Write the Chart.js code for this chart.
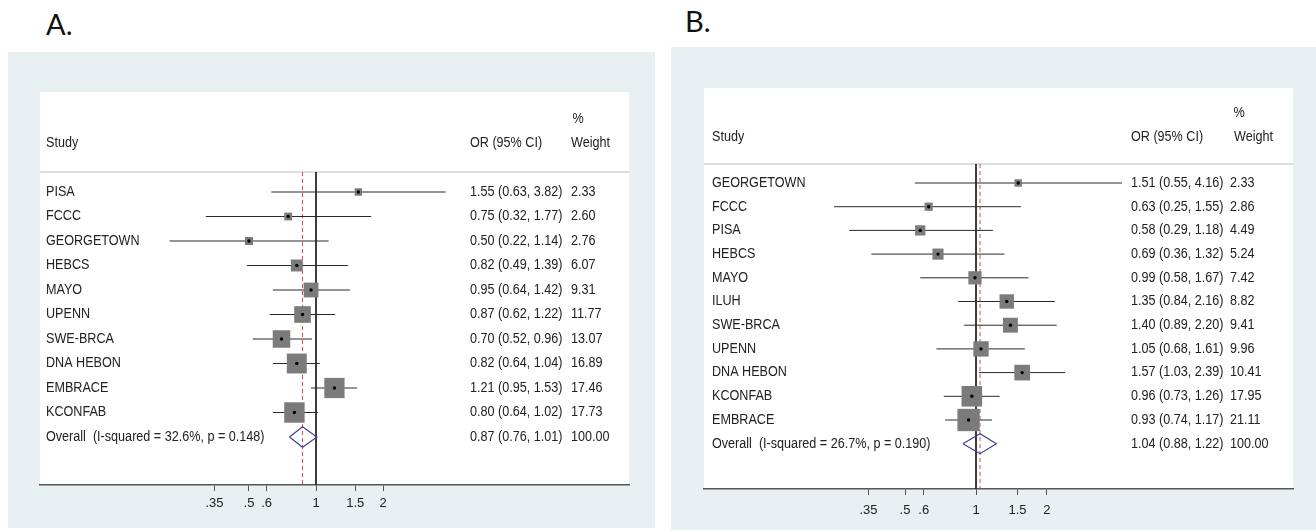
<!DOCTYPE html>
<html>
<head>
<meta charset="utf-8">
<script src="https://cdn.jsdelivr.net/npm/chart.js@4.4.0/dist/chart.umd.min.js"></script>
<style>
  body { margin: 0; background: #fff; width: 1316px; height: 530px; position: relative; overflow: hidden; }
  .lab { position: absolute; font-family: Lato, "Open Sans", sans-serif; font-size: 29px; color: #111; line-height: 1; }
  .panel { position: absolute; background: #e9f0f2; }
</style>
</head>
<body>
<div class="lab" style="left:46px;top:9px">A.</div>
<div class="lab" style="left:685px;top:6px">B.</div>
<div class="panel" style="left:8px;top:52px;width:647px;height:476px"><canvas id="chartA"></canvas></div>
<div class="panel" style="left:671px;top:47px;width:645px;height:483px"><canvas id="chartB"></canvas></div>
<script>
// panel A
var studiesA = ["PISA", "FCCC", "GEORGETOWN", "HEBCS", "MAYO", "UPENN", "SWE-BRCA", "DNA HEBON", "EMBRACE", "KCONFAB"];
var orA = [1.55, 0.75, 0.50, 0.82, 0.95, 0.87, 0.70, 0.82, 1.21, 0.80];
var lowA = [0.63, 0.32, 0.22, 0.49, 0.64, 0.62, 0.52, 0.64, 0.95, 0.64];
var highA = [3.82, 1.77, 1.14, 1.39, 1.42, 1.22, 0.96, 1.04, 1.53, 1.02];
var weightA = [2.33, 2.60, 2.76, 6.07, 9.31, 11.77, 13.07, 16.89, 17.46, 17.73];
var overallA = [0.87, 0.76, 1.01, 100.00]; // OR, low, high, weight
var hetA = "I-squared = 32.6%, p = 0.148";

// panel B
var studiesB = ["GEORGETOWN", "FCCC", "PISA", "HEBCS", "MAYO", "ILUH", "SWE-BRCA", "UPENN", "DNA HEBON", "KCONFAB", "EMBRACE"];
var orB = [1.51, 0.63, 0.58, 0.69, 0.99, 1.35, 1.40, 1.05, 1.57, 0.96, 0.93];
var lowB = [0.55, 0.25, 0.29, 0.36, 0.58, 0.84, 0.89, 0.68, 1.03, 0.73, 0.74];
var highB = [4.16, 1.55, 1.18, 1.32, 1.67, 2.16, 2.20, 1.61, 2.39, 1.26, 1.17];
var weightB = [2.33, 2.86, 4.49, 5.24, 7.42, 8.82, 9.41, 9.96, 10.41, 17.95, 21.11];
var overallB = [1.04, 0.88, 1.22, 100.00];
var hetB = "I-squared = 26.7%, p = 0.190";

var tickValues = [0.35, 0.5, 0.6, 1, 1.5, 2];
var tickLabels = [".35", ".5", ".6", "1", "1.5", "2"];

var FONT = '"Liberation Sans", Arial, sans-serif';

// the original text is a little narrow, so squeeze it sideways
function narrowText(ctx, s, x, y) {
  ctx.save();
  ctx.translate(x, y);
  ctx.scale(0.9, 1);
  ctx.fillText(s, 0, 0);
  ctx.restore();
}

function makeForest(id, studies, or, low, high, weight, overall, het, L) {
  var n = studies.length;
  var yMin = -(L.row0 - L.chartTop) / L.rowStep;
  var yMax = (L.axisY - L.row0) / L.rowStep;
  var xMin = Math.exp((L.chartLeft - L.x1) / L.k);
  var xMax = Math.exp((L.chartRight - L.x1) / L.k);

  var datasets = [];
  datasets.push({
    data: or.map(function (v, i) { return { x: v, y: i }; }),
    pointStyle: "circle", pointRadius: 1.7, backgroundColor: "#000", borderWidth: 0, order: 0
  });
  datasets.push({
    data: or.map(function (v, i) { return { x: v, y: i }; }),
    pointStyle: "rect",
    pointRadius: function (c) { return 4.85 * Math.sqrt(weight[c.dataIndex]) / Math.SQRT2; },
    backgroundColor: "#7b7b7b", borderWidth: 0, order: 1
  });
  for (var i = 0; i < n; i++) {
    datasets.push({
      data: [{ x: low[i], y: i }, { x: high[i], y: i }],
      showLine: true, pointRadius: 0, borderColor: "#2a2a2a", borderWidth: 1, order: 2
    });
  }
  // overall diamond
  datasets.push({
    data: [{ x: overall[1], y: n }, { x: overall[0], y: n - 0.42 }, { x: overall[2], y: n },
           { x: overall[0], y: n + 0.42 }, { x: overall[1], y: n }],
    showLine: true, pointRadius: 0, borderColor: "#3d3a95", borderWidth: 1.1, order: 2
  });
  // reference line at OR = 1 and dashed line at the overall estimate
  datasets.push({
    data: [{ x: 1, y: yMin }, { x: 1, y: yMax }],
    showLine: true, pointRadius: 0, borderColor: "#222", borderWidth: 1, order: 4
  });
  datasets.push({
    data: [{ x: overall[0], y: yMin }, { x: overall[0], y: yMax }],
    showLine: true, pointRadius: 0, borderColor: "#d2504f", borderWidth: 1, borderDash: [4, 3], order: 3
  });

  var textPlugin = {
    id: "forestText",
    beforeDraw: function (chart) {
      var ctx = chart.ctx, a = chart.chartArea;
      ctx.save();
      ctx.fillStyle = "#fff";
      ctx.fillRect(a.left, L.boxTop, a.right - a.left, a.bottom - L.boxTop);
      ctx.strokeStyle = "#cfd3d5";
      ctx.lineWidth = 1.5;
      ctx.beginPath();
      ctx.moveTo(a.left, a.top); ctx.lineTo(a.right, a.top);
      ctx.stroke();
      ctx.fillStyle = "#222";
      ctx.font = "14px " + FONT;
      ctx.textBaseline = "middle";
      ctx.textAlign = "center";
      narrowText(ctx, "%", L.pctX, L.pctY);
      ctx.textAlign = "left";
      narrowText(ctx, "Study", L.studyX, L.hdrY);
      narrowText(ctx, "OR (95% CI)", L.orX, L.hdrY);
      narrowText(ctx, "Weight", L.wHdrX, L.hdrY);
      ctx.restore();
    },
    afterDraw: function (chart) {
      var ctx = chart.ctx, ys = chart.scales.y;
      ctx.save();
      ctx.fillStyle = "#222";
      ctx.font = "14px " + FONT;
      ctx.textBaseline = "middle";
      ctx.textAlign = "left";
      for (var i = 0; i <= n; i++) {
        var y = ys.getPixelForValue(i);
        var name, txt, w;
        if (i < n) {
          name = studies[i];
          txt = or[i].toFixed(2) + " (" + low[i].toFixed(2) + ", " + high[i].toFixed(2) + ")";
          w = weight[i].toFixed(2);
        } else {
          name = "Overall  (" + het + ")";
          txt = overall[0].toFixed(2) + " (" + overall[1].toFixed(2) + ", " + overall[2].toFixed(2) + ")";
          w = overall[3].toFixed(2);
        }
        narrowText(ctx, name, L.studyX, y);
        narrowText(ctx, txt, L.orX, y);
        narrowText(ctx, w, L.wX, y);
      }
      ctx.restore();
    }
  };

  var canvas = document.getElementById(id);
  return new Chart(canvas, {
    type: "scatter",
    data: { datasets: datasets },
    options: {
      responsive: true,
      maintainAspectRatio: false,
      animation: false,
      events: [],
      layout: {
        padding: { left: L.chartLeft, right: L.w - L.chartRight, top: L.chartTop, bottom: L.h - L.axisY - L.axisH }
      },
      plugins: { legend: { display: false }, tooltip: { enabled: false } },
      scales: {
        x: {
          type: "logarithmic",
          min: xMin,
          max: xMax,
          afterFit: function (s) { s.height = L.axisH; },
          afterBuildTicks: function (s) { s.ticks = tickValues.map(function (v) { return { value: v }; }); },
          ticks: {
            autoSkip: false, maxRotation: 0, padding: L.tickPad, color: "#222",
            font: { size: 13, family: FONT },
            callback: function (v, i) { return tickLabels[i]; }
          },
          grid: { drawOnChartArea: false, drawTicks: true, tickLength: 6, color: "#555", lineWidth: 1 },
          border: { display: true, color: "#555", width: 1.5 }
        },
        y: { type: "linear", display: false, reverse: true, min: yMin, max: yMax }
      }
    },
    plugins: [textPlugin]
  });
}

makeForest("chartA", studiesA, orA, lowA, highA, weightA, overallA, hetA, {
  w: 647, h: 476, chartLeft: 32, chartRight: 621, chartTop: 120, axisY: 433, axisH: 40, boxTop: 40,
  row0: 140, rowStep: 24.5, x1: 308, k: 96.7, tickPad: 5,
  studyX: 38, orX: 462, wX: 563, wHdrX: 563, hdrY: 91, pctX: 570, pctY: 67
});

makeForest("chartB", studiesB, orB, lowB, highB, weightB, overallB, hetB, {
  w: 645, h: 483, chartLeft: 33, chartRight: 622, chartTop: 117, axisY: 442, axisH: 38, boxTop: 41,
  row0: 136, rowStep: 23.7, x1: 305, k: 102.4, tickPad: 8,
  studyX: 41, orX: 460, wX: 559, wHdrX: 563, hdrY: 90, pctX: 568, pctY: 66
});
</script>
</body>
</html>
